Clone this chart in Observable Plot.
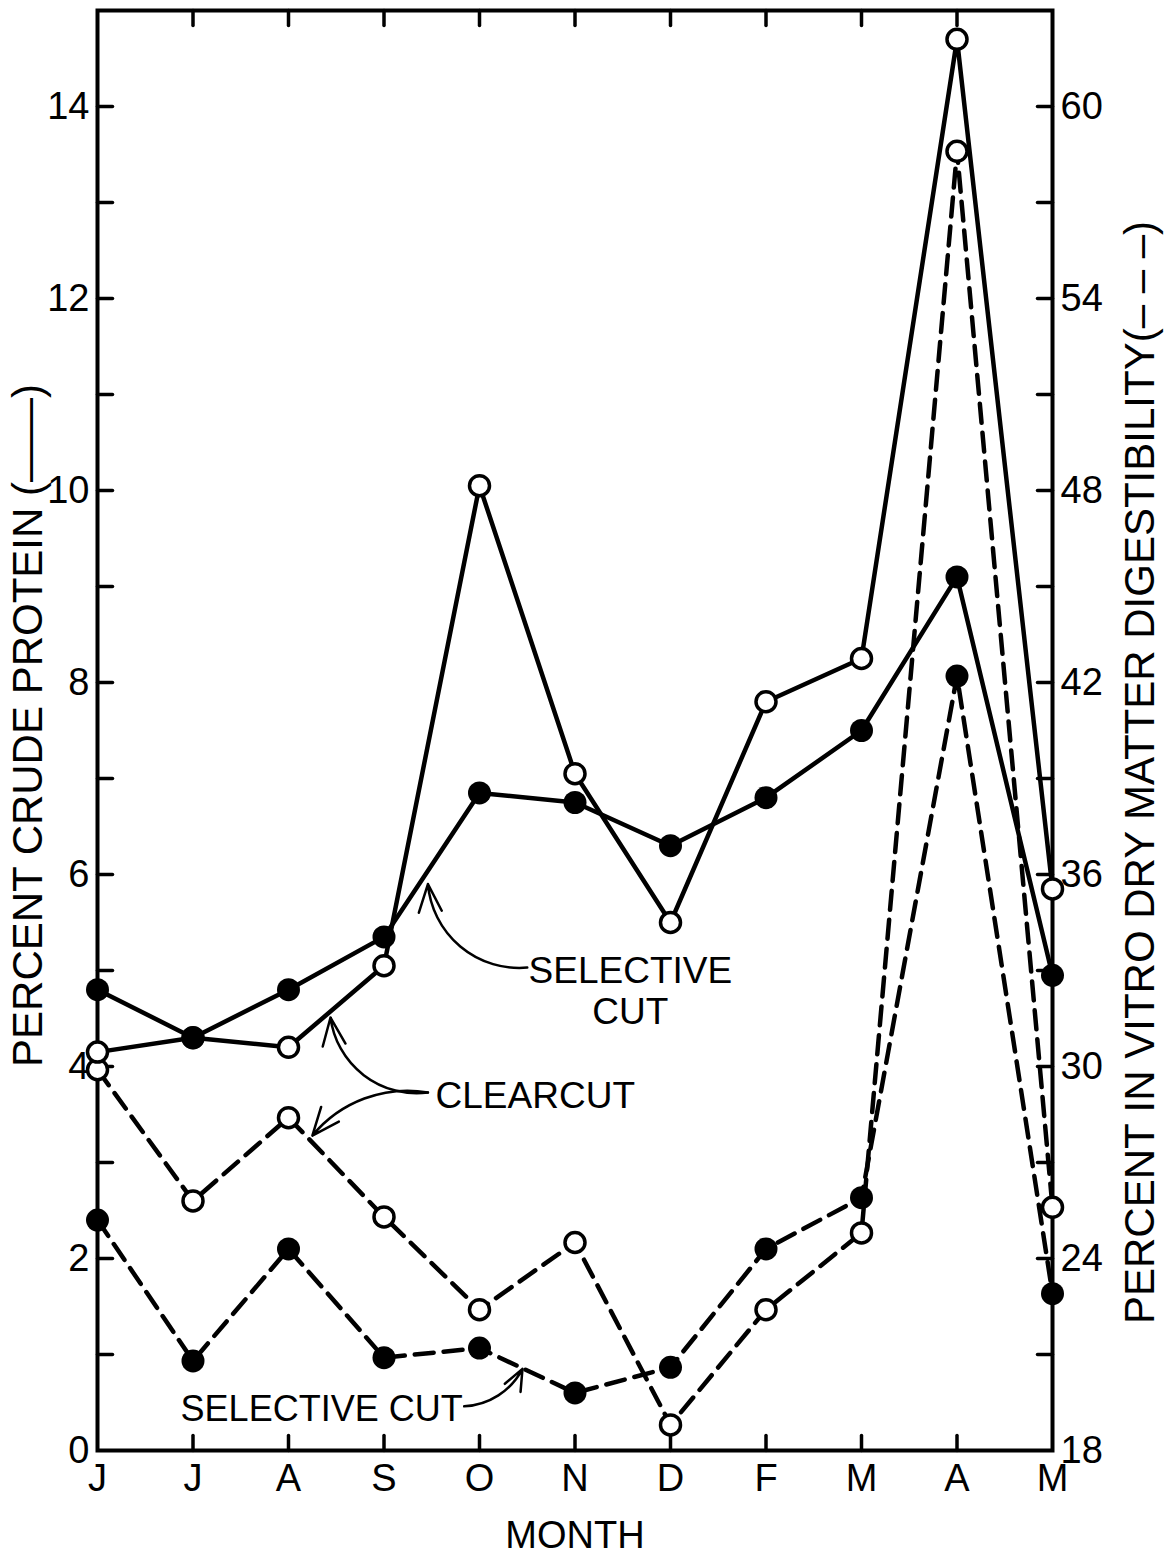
<!DOCTYPE html>
<html>
<head>
<meta charset="utf-8">
<script src="https://cdn.jsdelivr.net/npm/d3@7"></script>
<script src="https://cdn.jsdelivr.net/npm/@observablehq/plot@0.6"></script>
<style>
  html, body { margin: 0; padding: 0; background: #fff; }
  svg { display: block; }
</style>
</head>
<body>
<div id="chart"></div>
<script>
// ---- data ----
const months = ["J", "J", "A", "S", "O", "N", "D", "F", "M", "A", "M"];
// percent crude protein (left axis, solid lines)
const proteinSelective = [4.8, 4.3, 4.8, 5.35, 6.85, 6.75, 6.3, 6.8, 7.5, 9.1, 4.95];
const proteinClearcut  = [4.15, 4.3, 4.2, 5.05, 10.05, 7.05, 5.5, 7.8, 8.25, 14.7, 5.85];
// percent in vitro dry matter digestibility (right axis, dashed lines)
const digestClearcut   = [29.9, 25.8, 28.4, 25.3, 22.4, 24.5, 18.8, 22.4, 24.8, 58.6, 25.6];
const digestSelective  = [25.2, 20.8, 24.3, 20.9, 21.2, 19.8, 20.6, 24.3, 25.9, 42.2, 22.9];
// tick labels
const proteinTicks = [0, 2, 4, 6, 8, 10, 12, 14];
const digestTicks  = [18, 24, 30, 36, 42, 48, 54, 60];
const minorTicks   = [1, 2, 3, 4, 5, 6, 7, 8, 9, 10, 11, 12, 13, 14];
const monthTicks   = [1, 2, 3, 4, 5, 6, 7, 8, 9];
// annotations (data coordinates: month index, protein units)
const labelSelectiveTop = [{x: 5.58, y: 4.79, text: "SELECTIVE\nCUT"}];
const labelClearcut     = [{x: 3.54, y: 3.70, text: "CLEARCUT"}];
const labelSelectiveLow = [{x: 0.87, y: 0.44, text: "SELECTIVE CUT"}];
const arrowsClockwise = [
  {x1: 4.50, y1: 5.03, x2: 3.46, y2: 5.90},
  {x1: 3.46, y1: 3.73, x2: 2.44, y2: 4.51}
];
const arrowsCounter = [
  {x1: 3.46, y1: 3.73, x2: 2.25, y2: 3.28},
  {x1: 3.84, y1: 0.46, x2: 4.45, y2: 0.85}
];

// digestibility shares the plot with protein: 18 + 3 * protein
const digToY = d => (d - 18) / 3;
const table = vals => vals.map((v, i) => ({i, v}));

const solid = {x: "i", y: "v", stroke: "black", strokeWidth: 4.5, strokeLinejoin: "round"};
const dashed = {x: "i", y: d => digToY(d.v), stroke: "black", strokeWidth: 4.5, strokeDasharray: "19,10"};

// plain straight tick shape for Plot.vector
const tickShape = {draw(context, l) { context.moveTo(0, 0); context.lineTo(0, -l); }};
const tickOpts = {length: 15, anchor: "start", shape: tickShape, stroke: "black", strokeWidth: 3.5};

const arrowOpts = {x1: "x1", y1: "y1", x2: "x2", y2: "y2", stroke: "black", strokeWidth: 2.5, headLength: 18, headAngle: 45};
const annoText = {x: "x", y: "y", text: "text", lineAnchor: "middle", lineHeight: 1.1, fill: "black"};

const chart = Plot.plot({
  width: 1167,
  height: 1560,
  marginLeft: 97,
  marginRight: 115,
  marginTop: 10,
  marginBottom: 110,
  x: {type: "linear", domain: [0, 10]},
  y: {type: "linear", domain: [0, 15]},
  style: {fontFamily: "'Liberation Sans', Arial, sans-serif", background: "white", color: "black"},
  marks: [
    Plot.frame({stroke: "black", strokeWidth: 4}),
    // inward tick marks
    Plot.vector(minorTicks, {...tickOpts, x: 0, y: d => d, rotate: 90}),
    Plot.vector(minorTicks, {...tickOpts, x: 10, y: d => d, rotate: -90}),
    Plot.vector(monthTicks, {...tickOpts, x: d => d, y: 0, rotate: 0}),
    Plot.vector(monthTicks, {...tickOpts, x: d => d, y: 15, rotate: 180}),
    // tick labels
    Plot.axisY(proteinTicks, {anchor: "left", tickSize: 0, tickPadding: 8, fontSize: 38, label: null,
      tickFormat: p => String(p)}),
    Plot.axisY(digestTicks.map(digToY), {anchor: "right", tickSize: 0, tickPadding: 8, fontSize: 38, label: null,
      tickFormat: p => String(Math.round(18 + 3 * p))}),
    Plot.axisX(months.map((_, i) => i), {anchor: "bottom", tickSize: 0, tickPadding: 14, fontSize: 38, label: null,
      tickFormat: i => months[i]}),
    // axis titles
    Plot.text(["PERCENT CRUDE PROTEIN (——)"], {frameAnchor: "left", rotate: -90, dx: -69, dy: -5,
      fontSize: 42, lineAnchor: "middle", textAnchor: "middle"}),
    Plot.text(["PERCENT IN VITRO DRY MATTER DIGESTIBILITY(– – –)"], {frameAnchor: "right", rotate: -90, dx: 88, dy: 42,
      fontSize: 42, lineAnchor: "middle", textAnchor: "middle"}),
    Plot.text(["MONTH"], {frameAnchor: "bottom", dy: 85, fontSize: 38, lineAnchor: "middle"}),
    // series lines
    Plot.line(table(digestClearcut), dashed),
    Plot.line(table(digestSelective), dashed),
    Plot.line(table(proteinClearcut), solid),
    Plot.line(table(proteinSelective), solid),
    // series markers
    Plot.dot(table(digestClearcut), {x: "i", y: d => digToY(d.v), r: 10, fill: "white", stroke: "black", strokeWidth: 3.5}),
    Plot.dot(table(digestSelective), {x: "i", y: d => digToY(d.v), r: 11.5, fill: "black", stroke: "none"}),
    Plot.dot(table(proteinClearcut), {x: "i", y: "v", r: 10, fill: "white", stroke: "black", strokeWidth: 3.5}),
    Plot.dot(table(proteinSelective), {x: "i", y: "v", r: 11.5, fill: "black", stroke: "none"}),
    // annotations
    Plot.arrow(arrowsClockwise, {...arrowOpts, bend: 45}),
    Plot.arrow(arrowsCounter, {...arrowOpts, bend: -30}),
    Plot.text(labelSelectiveTop, {...annoText, fontSize: 37, textAnchor: "middle"}),
    Plot.text(labelClearcut, {...annoText, fontSize: 37, textAnchor: "start"}),
    Plot.text(labelSelectiveLow, {...annoText, fontSize: 36, textAnchor: "start"})
  ]
});

document.getElementById("chart").appendChild(chart);
</script>
</body>
</html>
